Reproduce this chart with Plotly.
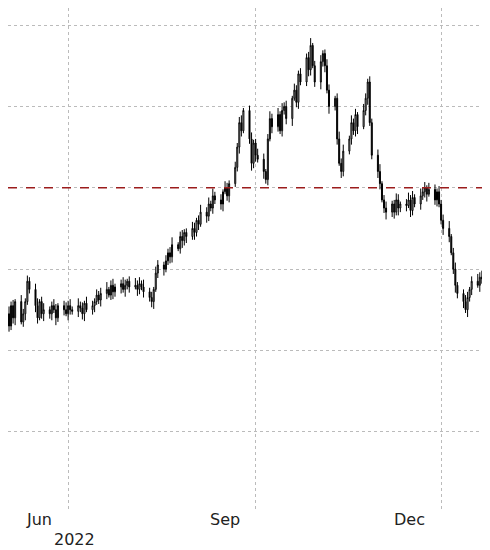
import plotly.graph_objects as go
import pandas as pd

dates = pd.bdate_range("2022-04-28", "2022-12-23")
closes = [2.50, 2.40,
 2.45, 2.30, 2.55, 2.40, 2.60,
 2.35, 2.45, 2.60, 2.85, 2.75,
 2.55, 2.40, 2.60, 2.45, 2.50,
 2.45, 2.55, 2.50, 2.40, 2.55,
 2.50, 2.45, 2.55, 2.50, 2.48,
 2.55, 2.52, 2.45, 2.58, 2.50,
 2.55, 2.60, 2.68, 2.62, 2.70,
 2.75, 2.68, 2.80, 2.72, 2.78,
 2.82, 2.75, 2.80, 2.85, 2.78,
 2.80, 2.75, 2.82, 2.78, 2.72,
 2.65, 2.60, 2.75, 2.95, 3.05,
 3.00, 3.10, 3.20, 3.15, 3.30,
 3.25, 3.40, 3.35, 3.45, 3.40,
 3.50, 3.45, 3.60, 3.55, 3.70,
 3.65, 3.80, 3.75, 3.90, 3.85,
 3.80, 3.95, 4.00, 3.90, 4.05,
 4.25, 4.50, 4.80, 4.70, 4.95,
 4.60, 4.30, 4.55, 4.40, 4.35,
 4.20, 4.10, 4.60, 4.85, 4.75,
 4.90, 4.70, 4.95, 5.00, 4.85,
 5.10, 5.20, 5.05, 5.40, 5.30,
 5.60, 5.45, 5.75, 5.50, 5.30,
 5.55, 5.65, 5.50, 5.20, 5.00,
 5.10, 4.60, 4.30, 4.20, 4.45,
 4.60, 4.80, 4.70, 4.90, 4.75,
 4.95, 5.10, 5.30, 4.80, 4.40,
 4.20, 4.05, 3.85, 3.75, 3.70,
 3.80, 3.70, 3.85, 3.75, 3.80,
 3.78, 3.85, 3.72, 3.88, 3.80,
 3.90, 3.95, 4.00, 3.92, 3.98,
 3.85, 3.95, 3.80, 3.60, 3.50,
 3.40, 3.20, 3.00, 2.80, 2.70,
 2.60, 2.50, 2.65, 2.75, 2.85,
 2.80, 2.90, 2.88, 2.95, 2.92]
first_open = 2.55
wicks = [0.06, 0.08, 0.04, 0.09, 0.05, 0.07, 0.03, 0.08, 0.06, 0.04, 0.07, 0.05,
         0.07, 0.09, 0.03, 0.06, 0.08, 0.04, 0.05, 0.08, 0.07, 0.03, 0.06, 0.09]
reference_level = 4.0
grid_vals = [1, 2, 3, 4, 5, 6]
tick_dates = ["2022-06-01", "2022-09-01", "2022-12-01"]
tick_labels = ["Jun", "Sep", "Dec"]
year_label = "2022"

dates = dates[:len(closes)]
opens = [first_open] + closes[:-1]
highs = [max(o, c) + wicks[i % len(wicks)] for i, (o, c) in enumerate(zip(opens, closes))]
lows = [min(o, c) - wicks[(i + 7) % len(wicks)] for i, (o, c) in enumerate(zip(opens, closes))]

fig = go.Figure(go.Candlestick(
    x=dates, open=opens, high=highs, low=lows, close=closes,
    increasing=dict(line=dict(color="black", width=1), fillcolor="white"),
    decreasing=dict(line=dict(color="black", width=1), fillcolor="black"),
    whiskerwidth=0, showlegend=False))

fig.add_shape(type="line", xref="paper", x0=0, x1=1, yref="y",
              y0=reference_level, y1=reference_level,
              line=dict(color="#9b1c1c", width=1.5, dash="dash"))

for d, t in zip(tick_dates, tick_labels):
    fig.add_annotation(x=d, y=0, xref="x", yref="paper", text=t, showarrow=False,
                       yanchor="top", xanchor="right", xshift=-14, yshift=3,
                       font=dict(size=16, color="#222", family="DejaVu Sans"))
fig.add_annotation(x=tick_dates[0], y=0, xref="x", yref="paper", text=year_label,
                   showarrow=False, yanchor="top", xanchor="center", xshift=6, yshift=-17,
                   font=dict(size=16, color="#222", family="DejaVu Sans"))

fig.update_layout(
    width=482, height=542, margin=dict(l=0, r=0, t=0, b=39, autoexpand=False),
    plot_bgcolor="white", paper_bgcolor="white",
    xaxis=dict(range=["2022-05-02 12:00", "2022-12-25"], rangeslider=dict(visible=False),
               tickvals=tick_dates, showticklabels=False, showgrid=True,
               gridcolor="#bbbbbb", griddash="dot", zeroline=False, showline=False),
    yaxis=dict(range=[0.025, 6.21], tickvals=grid_vals, showticklabels=False,
               showgrid=True, gridcolor="#bbbbbb", griddash="dot", zeroline=False),
)
fig.write_html("out.html")
